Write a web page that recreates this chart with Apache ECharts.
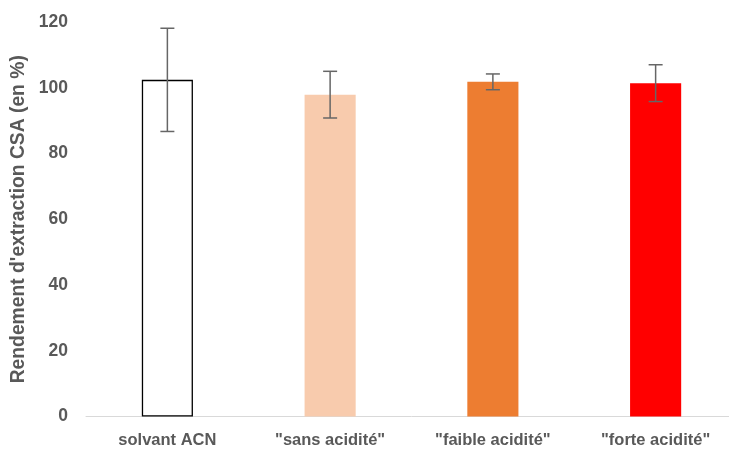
<!DOCTYPE html>
<html>
<head>
<meta charset="utf-8">
<script src="https://cdn.jsdelivr.net/npm/echarts@6/dist/echarts.min.js"></script>
<style>html,body{margin:0;padding:0;background:#fff;overflow:hidden;}#c{width:745px;height:450px;}</style>
</head>
<body>
<div id="c"></div>
<script>
const categories = ['solvant ACN', '"sans acidité"', '"faible acidité"', '"forte acidité"'];
const values = [102.4, 97.9, 101.8, 101.4];
const errors = [15.7, 7.1, 2.4, 5.6];
const barColors = ['#FFFFFF', '#F8CBAD', '#ED7D31', '#FF0000'];
const barBorders = ['#000000', '#F8CBAD', '#ED7D31', '#FF0000'];
const yTicks = [0, 20, 40, 60, 80, 100, 120];

const chart = echarts.init(document.getElementById('c'));
const font = '"Liberation Sans", Arial, sans-serif';
chart.setOption({
  animation: false,
  backgroundColor: '#fff',
  grid: { left: 86, right: 8, top: 22, bottom: 33.5, containLabel: false },
  xAxis: {
    type: 'category',
    data: categories,
    axisLine: { lineStyle: { color: '#D9D9D9', width: 1 } },
    axisTick: { show: false },
    axisLabel: { color: '#595959', fontFamily: font, fontWeight: 'bold', fontSize: 16.5, margin: 15 }
  },
  yAxis: {
    type: 'value',
    min: yTicks[0], max: yTicks[yTicks.length - 1], interval: 20,
    name: "Rendement d'extraction CSA (en %)",
    nameLocation: 'middle',
    nameGap: 55,
    nameRotate: 90,
    nameTextStyle: { color: '#595959', fontFamily: font, fontWeight: 'bold', fontSize: 19.3 },
    axisLine: { show: false },
    axisTick: { show: false },
    splitLine: { show: false },
    axisLabel: { color: '#595959', fontFamily: font, fontWeight: 'bold', fontSize: 17.5, margin: 18 }
  },
  series: [
    {
      type: 'bar',
      barWidth: '31.4%',
      data: values.map((v, i) => ({
        value: v,
        itemStyle: { color: barColors[i], borderColor: barBorders[i], borderWidth: i === 0 ? 1.3 : 0 }
      }))
    },
    {
      type: 'custom',
      data: values.map((v, i) => [i, v - errors[i], v + errors[i]]),
      renderItem: function (params, api) {
        const x = api.value(0);
        const lo = api.coord([x, api.value(1)]);
        const hi = api.coord([x, api.value(2)]);
        const hw = 7;
        const style = { stroke: '#666666', lineWidth: 1.5 };
        return {
          type: 'group',
          children: [
            { type: 'line', shape: { x1: hi[0], y1: hi[1], x2: lo[0], y2: lo[1] }, style: style },
            { type: 'line', shape: { x1: hi[0] - hw, y1: hi[1], x2: hi[0] + hw, y2: hi[1] }, style: style },
            { type: 'line', shape: { x1: lo[0] - hw, y1: lo[1], x2: lo[0] + hw, y2: lo[1] }, style: style }
          ]
        };
      },
      z: 10
    }
  ]
});
</script>
</body>
</html>
